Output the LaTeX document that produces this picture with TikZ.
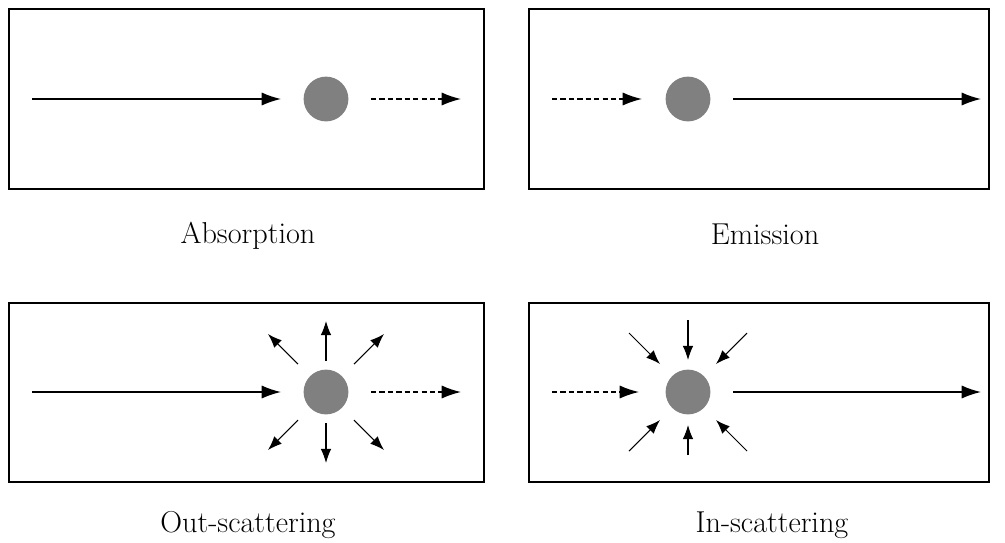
\documentclass[tikz,border=0pt]{standalone}
\usetikzlibrary{arrows.meta}
\begin{document}
\begin{tikzpicture}[x=0.02cm,y=-0.02cm,
  panel/.style={draw,line width=0.85pt},
  particle/.style={circle,fill=black!50,draw=none,minimum size=25.5pt,inner sep=0pt},
  beam/.style={line width=0.85pt,-{Latex[length=11pt,width=7.5pt]}},
  dimbeam/.style={beam,dash pattern=on 3pt off 1.8pt},
  ray/.style={line width=0.6pt,-{Latex[length=8pt,width=6pt]}},
  caption/.style={font=\fontsize{17.2}{20}\selectfont,anchor=base,inner sep=0pt}]
\useasboundingbox (0,0) rectangle (1005,542);
% boxes
\draw[panel] (9,9) rectangle (484,189);
\draw[panel] (529,9) rectangle (989,189);
\draw[panel] (9,303) rectangle (484,482);
\draw[panel] (529,303) rectangle (989,482);
% Absorption
\node[particle] (pa) at (326,99) {};
\coordinate (a1) at (32,99); \coordinate (a2) at (281,99);
\coordinate (a3) at (371,99); \coordinate (a4) at (461,99);
\draw[beam] (a1) -- (a2);
\draw[dimbeam] (a3) -- (a4);
\node[caption] (la) at (248,243) {Absorption};
% Emission
\node[particle] (pe) at (688,99) {};
\coordinate (e1) at (552,99); \coordinate (e2) at (642,99);
\coordinate (e3) at (733,99); \coordinate (e4) at (981,99);
\draw[dimbeam] (e1) -- (e2);
\draw[beam] (e3) -- (e4);
\node[caption] (le) at (765,244) {Emission};
% Out-scattering
\node[particle] (po) at (326,392) {};
\coordinate (o1) at (32,392); \coordinate (o2) at (281,392);
\coordinate (o3) at (371,392); \coordinate (o4) at (461,392);
\draw[beam] (o1) -- (o2);
\draw[dimbeam] (o3) -- (o4);
\foreach \dx/\dy/\ex/\ey in {0/-31/0/-71, 0/31/0/71, -28/-28/-58/-58, 28/-28/58/-58, -28/28/-58/58, 28/28/58/58}{
  \draw[ray] ([shift={(\dx,\dy)}]po.center) -- ([shift={(\ex,\ey)}]po.center);
}
\node[caption] (lo) at (248,532) {Out-scattering};
% In-scattering
\node[particle] (pi) at (688,392) {};
\coordinate (i1) at (552,392); \coordinate (i2) at (639,392);
\coordinate (i3) at (733,392); \coordinate (i4) at (981,392);
\draw[dimbeam] (i1) -- (i2);
\draw[beam] (i3) -- (i4);
\foreach \dx/\dy/\ex/\ey in {0/-72/0/-32, 0/63/0/33, -59/-59/-28/-28, 59/-59/28/-28, -59/59/-28/28, 59/59/28/28}{
  \draw[ray] ([shift={(\dx,\dy)}]pi.center) -- ([shift={(\ex,\ey)}]pi.center);
}
\node[caption] (li) at (772,532) {In-scattering};
\end{tikzpicture}
\end{document}
